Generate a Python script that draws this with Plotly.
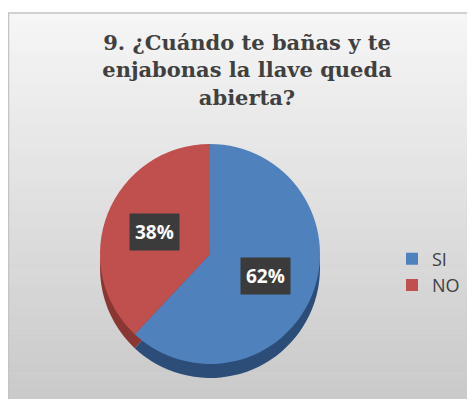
import numpy as np
import plotly.graph_objects as go

# ---- data ----
labels = ["SI", "NO"]
values = [62, 38]
label_text = ["62%", "38%"]
title_text = "<b>9. ¿Cuándo te bañas y te<br>enjabonas la llave queda<br>abierta?</b>"

top_colors = ["#4f81bd", "#c0504d"]
side_colors = ["#2c4d78", "#8a3734"]

# the page body has an 8px margin, so the figure is drawn from (8, 8)
OFF = 8
W, H = 475 - OFF, 407 - 2 * OFF
cx, cy, R = 210 - OFF, 254 - OFF, 110   # pie centre / radius in figure pixels
depth = 14

def dom(cx, cy, r):
    return dict(x=[(cx - r) / W, (cx + r) / W],
                y=[(H - cy - r) / H, (H - cy + r) / H])

fig = go.Figure()

# depth (side) of the pie
fig.add_trace(go.Pie(
    labels=labels, values=values, sort=False, direction="clockwise", rotation=0,
    marker=dict(colors=side_colors, line=dict(width=0)),
    textinfo="none", hoverinfo="skip", showlegend=False,
    domain=dom(cx, cy + depth, R),
))
# top face
fig.add_trace(go.Pie(
    labels=labels, values=values, sort=False, direction="clockwise", rotation=0,
    marker=dict(colors=top_colors, line=dict(width=0)),
    textinfo="none", showlegend=True,
    domain=dom(cx, cy, R),
))

# boxed data labels placed at slice mid-angles computed from the values
total = float(sum(values))
cum = 0.0
annotations = []
r_lab = 0.54 * R
for v, t in zip(values, label_text):
    theta = 2 * np.pi * (cum + v / 2) / total
    cum += v
    px = cx + r_lab * np.sin(theta)
    py_up = (H - cy) + r_lab * np.cos(theta)
    annotations.append(dict(
        x=px / W, y=py_up / H, xref="paper", yref="paper", text="<b>%s</b>" % t,
        showarrow=False,
        font=dict(family="Open Sans", size=19, color="white"),
        bgcolor="#3b3b3b", borderpad=5, xanchor="center", yanchor="middle",
    ))

# background panel with vertical gradient
shapes = []
x0, y0 = 0, 5
n = 60
c_top = np.array([246, 246, 246])
c_bot = np.array([202, 202, 202])
for i in range(n):
    t = i / (n - 1)
    c = (c_top + (c_bot - c_top) * t).astype(int)
    ya = y0 + (H - y0) * i / n
    yb = y0 + (H - y0) * (i + 1) / n + 0.5
    shapes.append(dict(type="rect", xref="paper", yref="paper", layer="below",
                       x0=x0 / W, x1=1.0, y0=1 - yb / H, y1=1 - ya / H,
                       fillcolor="rgb(%d,%d,%d)" % tuple(c), line=dict(width=0)))
shapes.append(dict(type="rect", xref="paper", yref="paper", layer="below",
                   x0=0.5 / W, x1=1.01, y0=-0.01, y1=1 - y0 / H,
                   fillcolor="rgba(0,0,0,0)", line=dict(color="#c4c4c4", width=1.5)))

fig.update_layout(
    width=W, height=H,
    margin=dict(l=0, r=0, t=0, b=0),
    paper_bgcolor="white",
    title=dict(text=title_text, x=239 / W, xanchor="center", y=1 - 42 / H, yanchor="top",
               font=dict(family="DejaVu Serif", size=21, color="#404040")),
    legend=dict(x=(392 - OFF) / W, y=1 - (272 - OFF) / H, xanchor="left", yanchor="middle",
                font=dict(family="Open Sans", size=18, color="#404040"),
                bgcolor="rgba(0,0,0,0)", tracegroupgap=0),
    annotations=annotations,
    shapes=shapes,
)

fig.write_html("out.html")
